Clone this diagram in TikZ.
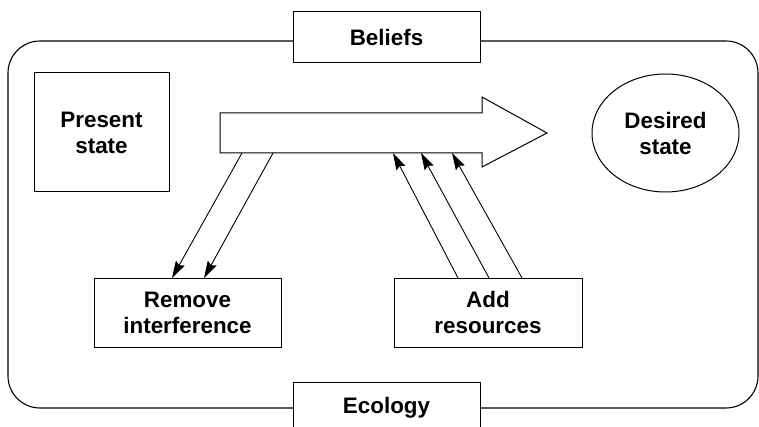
\documentclass[tikz,border=0pt]{standalone}
\usepackage{fontspec}
\setmainfont{Liberation Sans}
\usetikzlibrary{arrows.meta,shapes.geometric}
\tikzset{
  lbl/.style={font=\fontsize{11.2}{13}\selectfont\bfseries, align=center},
  boxnode/.style={lbl, draw, fill=white, inner sep=0pt, line width=0.5pt},
  feed/.style={-{Stealth[length=8.5pt,width=5pt,inset=1.2pt]}, line width=0.45pt}
}
\begin{document}
\begin{tikzpicture}[x=0.5pt,y=-0.5pt]
\useasboundingbox (0,0) rectangle (759,427);
% Ecology frame
\draw [line width=0.55pt, rounded corners=16pt] (8,41) rectangle (758,408);
% Frame labels
\node [boxnode, minimum width=93.5pt, minimum height=25.5pt] (beliefs) at (386.5,37.5) {Beliefs};
\node [boxnode, minimum width=93.5pt, minimum height=25.5pt] (ecology) at (386.5,407.5) {Ecology};
% States
\node [boxnode, minimum width=67.5pt, minimum height=59.5pt] (present) at (101.5,132.5) {Present\\state};
\node [boxnode, ellipse, minimum width=73.5pt, minimum height=59pt] (desired) at (665.5,133) {Desired\\state};
% Big arrow
\draw [line width=0.5pt] (220,113) -- (482,113) -- (482,97) -- (547,133) -- (482,167) -- (482,153) -- (220,153) -- cycle;
% Actions
\node [boxnode, minimum width=93.5pt, minimum height=34.5pt] (remove) at (187.5,312.5) {Remove\\interference};
\node [boxnode, minimum width=94pt, minimum height=34.5pt] (add) at (488,312.5) {Add\\resources};
% Connector ends
\coordinate (out1) at (242,153);
\coordinate (out2) at (273,153);
\coordinate (rem1) at (172,278);
\coordinate (rem2) at (204,278);
\coordinate (add1) at (458,278);
\coordinate (add2) at (489,278);
\coordinate (add3) at (522,278);
\coordinate (in1) at (393,153);
\coordinate (in2) at (421,153);
\coordinate (in3) at (452,153);
\draw [feed] (out1) -- (rem1);
\draw [feed] (out2) -- (rem2);
\draw [feed] (add1) -- (in1);
\draw [feed] (add2) -- (in2);
\draw [feed] (add3) -- (in3);
\end{tikzpicture}
\end{document}
